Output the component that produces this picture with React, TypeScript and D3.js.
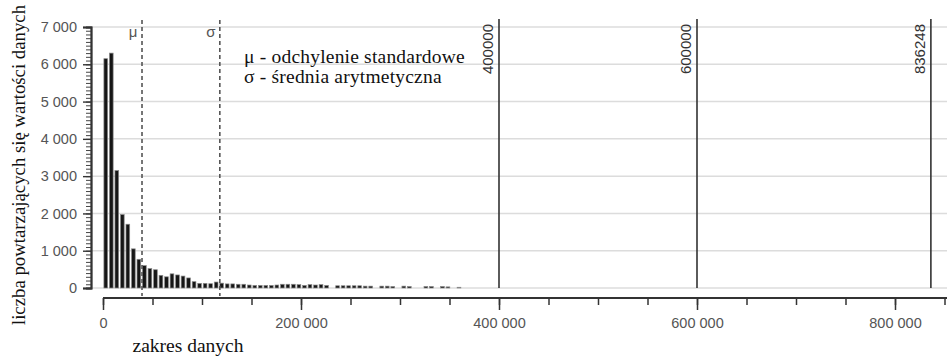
import * as d3 from 'd3';
import { useEffect, useRef } from 'react';

// histogram counts, bins of equal width starting at 0
const maxValue = 836248;
const binCount = 150;
const counts = [
  6150, 6300, 3150, 1970, 1710, 1050, 770, 600, 520, 490,
  340, 300, 380, 350, 320, 270, 170, 125, 125, 115,
  160, 130, 110, 110, 100, 100, 80, 70, 70, 70,
  70, 80, 100, 100, 100, 90, 70, 90, 80, 90,
  70, 0, 60, 60, 60, 60, 60, 50, 50, 0,
  50, 50, 40, 0, 50, 40, 0, 0, 40, 40,
  0, 40, 30, 0, 20,
];

const yTicks = [0, 1000, 2000, 3000, 4000, 5000, 6000, 7000];
const xTicks = [0, 200000, 400000, 600000, 800000];
const markers = [400000, 600000, 836248];
const mu = 39400;
const sigma = 118000;
const legendLines = ['μ - odchylenie standardowe', 'σ - średnia arytmetyczna'];
const yTitle = 'liczba powtarzających się wartości danych';
const xTitle = 'zakres danych';

const W = 947;
const H = 356;

const fmt = (v: number) => d3.format(',')(v).replace(/,/g, ' ');

export default function App() {
  const ref = useRef<SVGSVGElement>(null);

  useEffect(() => {
    const svg = d3.select(ref.current);
    svg.selectAll('*').remove();

    const x = d3.scaleLinear().domain([0, 800000]).range([103, 895]);
    const y = d3.scaleLinear().domain([0, 7000]).range([288, 27]);
    const binW = maxValue / binCount;
    const sans = 'Liberation Sans, Arial, sans-serif';
    const serif = 'Liberation Serif, Times New Roman, serif';

    // grid
    svg.append('g')
      .selectAll('line')
      .data(yTicks)
      .enter()
      .append('line')
      .attr('x1', 91).attr('x2', W)
      .attr('y1', (d) => y(d)).attr('y2', (d) => y(d))
      .attr('stroke', '#dcdcdc')
      .attr('stroke-width', 1.5);

    // y axis: minor ticks every 100, major every 1000
    const yMinor = svg.append('g').attr('transform', 'translate(91,0)');
    yMinor.call(
      d3.axisLeft(y).tickValues(d3.range(0, 7001, 100)).tickSize(5).tickFormat(() => '') as any
    );
    yMinor.selectAll('line').attr('stroke', '#444').attr('stroke-width', 1);
    const yAxis = svg.append('g').attr('transform', 'translate(91,0)');
    yAxis.call(d3.axisLeft(y).tickValues(yTicks).tickSize(8).tickFormat(fmt as any) as any);
    svg.selectAll('path.domain').attr('stroke', '#333').attr('stroke-width', 1.8);
    yAxis.selectAll('line').attr('stroke', '#333').attr('stroke-width', 1.4);
    yAxis.selectAll('text')
      .attr('font-family', sans)
      .attr('font-size', 14.5)
      .attr('fill', '#555')
      .attr('x', -14);

    // x axis, offset below the plot
    const xMinor = svg.append('g').attr('transform', 'translate(0,298)');
    xMinor.call(
      d3.axisBottom(x).tickValues(d3.range(0, 850001, 50000)).tickSize(7).tickFormat(() => '') as any
    );
    xMinor.selectAll('path').remove();
    xMinor.selectAll('line').attr('stroke', '#333').attr('stroke-width', 1.5);
    const xAxis = svg.append('g').attr('transform', 'translate(0,298)');
    xAxis.call(d3.axisBottom(x).tickValues(xTicks).tickSize(12).tickFormat(fmt as any) as any);
    xAxis.selectAll('path')
      .attr('stroke', '#333')
      .attr('stroke-width', 2.2)
      .attr('d', `M103,0H${W}`);
    xAxis.selectAll('line').attr('stroke', '#333').attr('stroke-width', 1.5);
    xAxis.selectAll('text')
      .attr('font-family', sans)
      .attr('font-size', 14.5)
      .attr('fill', '#555')
      .attr('y', 20);

    // bars
    svg.append('g')
      .selectAll('rect')
      .data(counts)
      .enter()
      .append('rect')
      .attr('x', (_d, i) => x(i * binW) + 0.9)
      .attr('width', (_d, i) => x((i + 1) * binW) - x(i * binW) - 1.8)
      .attr('y', (d) => y(d))
      .attr('height', (d) => y(0) - y(d))
      .attr('fill', '#161616')
      .attr('stroke', '#8a8a8a')
      .attr('stroke-width', 0.7)
      .attr('visibility', (d) => (d > 0 ? 'visible' : 'hidden'));

    // dashed mean / std lines
    const dashed = svg.append('g');
    [
      { v: mu, label: 'μ' },
      { v: sigma, label: 'σ' },
    ].forEach((m) => {
      dashed.append('line')
        .attr('x1', x(m.v)).attr('x2', x(m.v))
        .attr('y1', 20).attr('y2', 296)
        .attr('stroke', '#555')
        .attr('stroke-width', 1.6)
        .attr('stroke-dasharray', '4,3');
      dashed.append('text')
        .attr('x', x(m.v) - 9)
        .attr('y', 37)
        .attr('text-anchor', 'middle')
        .attr('font-family', sans)
        .attr('font-size', 15)
        .attr('fill', '#555')
        .text(m.label);
    });

    // solid markers with rotated labels
    const mk = svg.append('g');
    markers.forEach((v) => {
      mk.append('line')
        .attr('x1', x(v)).attr('x2', x(v))
        .attr('y1', 19).attr('y2', 288)
        .attr('stroke', '#333')
        .attr('stroke-width', 1.6);
      mk.append('text')
        .attr('transform', `translate(${x(v) - 6},24) rotate(-90)`)
        .attr('text-anchor', 'end')
        .attr('font-family', sans)
        .attr('font-size', 15)
        .attr('fill', '#333')
        .text(String(v));
    });

    // legend text
    svg.append('g')
      .selectAll('text')
      .data(legendLines)
      .enter()
      .append('text')
      .attr('x', 244)
      .attr('y', (_d, i) => 63 + i * 20)
      .attr('font-family', serif)
      .attr('font-size', 19.5)
      .attr('letter-spacing', 0.2)
      .attr('fill', '#111')
      .text((d) => d);

    // axis titles
    svg.append('text')
      .attr('transform', 'translate(25,165) rotate(-90)')
      .attr('text-anchor', 'middle')
      .attr('font-family', serif)
      .attr('font-size', 18.8)
      .attr('fill', '#111')
      .text(yTitle);

    svg.append('text')
      .attr('x', 188)
      .attr('y', 352)
      .attr('text-anchor', 'middle')
      .attr('font-family', serif)
      .attr('font-size', 19.5)
      .attr('fill', '#111')
      .text(xTitle);

    return () => {
      svg.selectAll('*').remove();
    };
  }, []);

  return (
    <svg
      ref={ref}
      width={W}
      height={H}
      style={{ position: 'absolute', left: 0, top: 0, background: '#fff' }}
    />
  );
}
